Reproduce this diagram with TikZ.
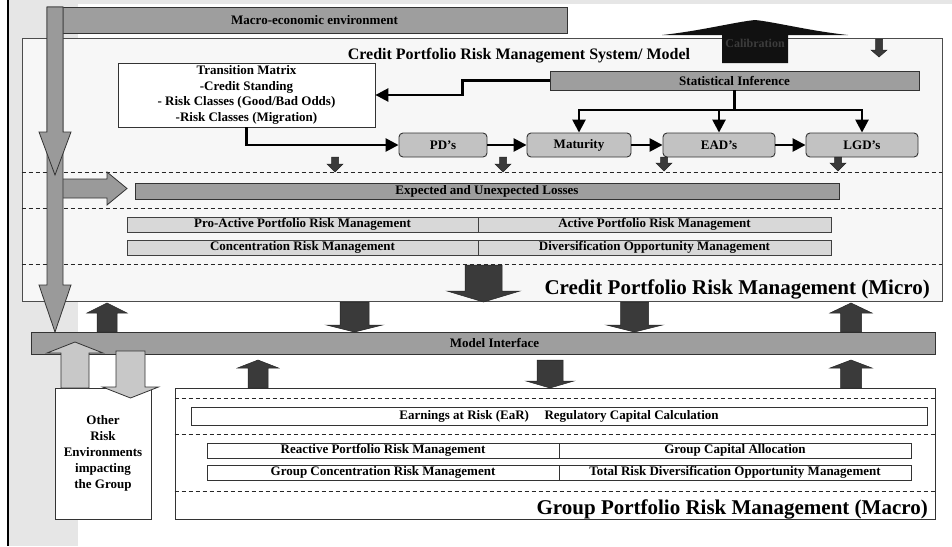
\documentclass[tikz,border=0pt]{standalone}
\usepackage{fontspec}
\setmainfont{Liberation Serif}
\usetikzlibrary{arrows.meta}

\definecolor{bandgray}{HTML}{E6E6E6}
\definecolor{panelgray}{HTML}{F7F7F7}
\definecolor{bargray}{HTML}{9E9E9E}
\definecolor{stepgray}{HTML}{C2C2C2}
\definecolor{rowgray}{HTML}{D8D8D8}
\definecolor{litegray}{HTML}{C8C8C8}
\definecolor{arrowgray}{HTML}{9A9A9A}
\definecolor{darkarrow}{HTML}{3A3A3A}
\definecolor{calibfill}{HTML}{111111}
\definecolor{calibtext}{HTML}{3C3C3C}

% vertical block arrow: style, x, y start, y tip, shaft half-width, head half-width, head length
\newcommand\blkv[7]{%
  \path[#1] ({#2-#5},#3) -- ({#2-#5},{#4-#7*sign(#4-#3)}) -- ({#2-#6},{#4-#7*sign(#4-#3)})
    -- (#2,#4) -- ({#2+#6},{#4-#7*sign(#4-#3)}) -- ({#2+#5},{#4-#7*sign(#4-#3)}) -- ({#2+#5},#3) -- cycle;}

\begin{document}
\begin{tikzpicture}[x=1pt,y=-1pt,
  txt/.style={font=\fontsize{13}{15.7}\selectfont\bfseries, text=black},
  bigtitle/.style={font=\fontsize{21}{24}\selectfont\bfseries, inner sep=0pt},
  panel/.style={draw=black!70, fill=panelgray, line width=0.8pt, inner sep=0pt},
  whitebox/.style={draw=black!80, fill=white, line width=0.8pt, inner sep=0pt, txt, align=center},
  graybar/.style={draw=black!80, fill=bargray, line width=0.9pt, inner sep=0pt, txt},
  stepbox/.style={draw=black!80, fill=stepgray, line width=0.9pt, rounded corners=4pt, inner sep=0pt, txt},
  rowbox/.style={draw=black!75, fill=rowgray, line width=0.9pt, inner sep=0pt, txt},
  sep/.style={dash pattern=on 4pt off 3pt, line width=0.8pt, draw=black!85},
  conn/.style={line width=2.6pt, -{Triangle[length=13pt,width=13pt]}},
  wire/.style={line width=2.6pt},
  darkblk/.style={fill=darkarrow, draw=black!85, line width=0.5pt},
  midblk/.style={fill=arrowgray, draw=black!80, line width=0.8pt},
  liteblk/.style={fill=litegray, draw=black!80, line width=0.8pt},
]
\useasboundingbox (0,0) rectangle (952,546);

% page background and left margin band
\fill[white] (0,0) rectangle (952,546);
\fill[bandgray] (8,0) rectangle (78,546);
\fill[bandgray] (8,0) rectangle (952,4);
\draw[line width=2pt] (8,0) -- (8,546);

% ---------- micro level panel ----------
\node[panel, minimum width=920, minimum height=263] (micro) at (482,169.5) {};
\foreach \yy in {172,208,264}
  \draw[sep] (micro.west |- 0,\yy) -- (micro.east |- 0,\yy);

\node[txt, font=\fontsize{16}{18}\selectfont\bfseries, anchor=base, inner sep=0pt] (systitle) at (519,59)
  {Credit Portfolio Risk Management System/ Model};

% macro-economic environment bar
\node[graybar, minimum width=505, minimum height=26] (macroenv) at (314.5,20) {Macro-economic environment};

% calibration arrow with a wide, slightly concave head
\fill[calibfill] (722,63) -- (722,35) -- (662,35)
  .. controls (700,31) and (735,22) .. (755,20)
  .. controls (775,22) and (810,31) .. (848,35)
  -- (788,35) -- (788,63) -- cycle;
\node[txt, font=\fontsize{12}{14}\selectfont\bfseries, text=calibtext, inner sep=0pt] (calib) at (755,43) {Calibration};
\blkv{darkblk}{879}{39}{57}{3.5}{8}{7}

% transition matrix and statistical inference
\node[whitebox, minimum width=257, minimum height=64] (trans) at (246.5,95)
  {Transition Matrix\\-Credit Standing\\- Risk Classes (Good/Bad Odds)\\-Risk Classes (Migration)};
\node[graybar, minimum width=369, minimum height=19] (stat) at (734.5,80.5) {Statistical Inference};

% risk parameter boxes
\node[stepbox, minimum width=88,  minimum height=24] (pd)  at (443,145) {PD’s};
\node[stepbox, minimum width=104, minimum height=24] (mat) at (579,145) {Maturity};
\node[stepbox, minimum width=112, minimum height=24] (ead) at (719,145) {EAD’s};
\node[stepbox, minimum width=112, minimum height=24] (lgd) at (862,145) {LGD’s};

% connectors
\draw[conn] (stat.west) -- ++(-87,0) |- (trans.east);
\draw[conn] (trans.south) |- (pd.west);
\draw[conn] (pd.east) -- (mat.west);
\draw[conn] (mat.east) -- (ead.west);
\draw[conn] (ead.east) -- (lgd.west);
\coordinate (fork) at (stat.south |- 0,110);
\draw[wire] (stat.south) -- (fork);
\draw[conn] (fork) -| (mat.north);
\draw[conn] (fork) -| (ead.north);
\draw[conn] (fork) -| (lgd.north);

% small outflow arrows
\blkv{darkblk}{335}{157}{172}{3.5}{8}{8}
\blkv{darkblk}{503}{157}{172}{3.5}{8}{8}
\blkv{darkblk}{664}{157}{171}{3.5}{8}{8}
\blkv{darkblk}{838}{157}{171}{3.5}{8}{8}

% losses and management rows
\node[graybar, minimum width=704, minimum height=16] (loss) at (487,191) {Expected and Unexpected Losses};
\node[rowbox, minimum width=351, minimum height=15] (proact) at (302.5,224.5) {Pro-Active Portfolio Risk Management};
\node[rowbox, minimum width=353, minimum height=15] (act)    at (654.5,224.5) {Active Portfolio Risk Management};
\node[rowbox, minimum width=351, minimum height=15] (conc)   at (302.5,247.5) {Concentration Risk Management};
\node[rowbox, minimum width=353, minimum height=15] (divers) at (654.5,247.5) {Diversification Opportunity Management};

\blkv{darkblk}{483.5}{265}{302}{18.5}{36.5}{11}
\node[bigtitle, anchor=base east] (microtitle) at (930,294) {Credit Portfolio Risk Management (Micro)};

% ---------- model interface ----------
\node[graybar, minimum width=904, minimum height=22] (model) at (483,343) {};
\node[txt, inner sep=0pt] (modeltxt) at (494.5,343) {Model Interface};

\blkv{darkblk}{107}{332}{303}{10}{20}{10}
\blkv{darkblk}{354.5}{302}{332}{14.5}{28}{7}
\blkv{darkblk}{634.5}{302}{332}{14}{28}{7}
\blkv{darkblk}{851}{332}{303}{10.5}{21}{10}

% ---------- macro level panel ----------
\node[whitebox, minimum width=96, minimum height=131, font=\fontsize{13}{16}\selectfont\bfseries] (other) at (103,453.5)
  {Other\\Risk\\Environments\\impacting\\the Group};
\node[whitebox, minimum width=760, minimum height=131] (macro) at (555,453.5) {};
\foreach \yy in {398,434,491}
  \draw[sep] (macro.west |- 0,\yy) -- (macro.east |- 0,\yy);

\node[whitebox, minimum width=736, minimum height=18] (ear) at (559,416)
  {Earnings at Risk (EaR)\hspace{15.5pt}Regulatory Capital Calculation};
\node[whitebox, minimum width=352, minimum height=15] (react)  at (383,450.5) {Reactive Portfolio Risk Management};
\node[whitebox, minimum width=352, minimum height=15] (alloc)  at (735,450.5) {Group Capital Allocation};
\node[whitebox, minimum width=352, minimum height=15] (gconc)  at (383,472.5) {Group Concentration Risk Management};
\node[whitebox, minimum width=352, minimum height=15] (gdiv)   at (735,472.5) {Total Risk Diversification Opportunity Management};
\node[bigtitle, anchor=base east] (macrotitle) at (928,514) {Group Portfolio Risk Management (Macro)};

\blkv{darkblk}{258}{388}{360}{10}{20.5}{8}
\blkv{darkblk}{550}{360}{388}{13}{24}{7}
\blkv{darkblk}{851}{388}{360}{10.5}{21}{8}

% exchange with other risk environments
\blkv{liteblk}{75}{388}{342}{14}{28}{11}
\blkv{liteblk}{130.5}{351}{398}{14.5}{28}{11}

% macro-economic influence arrows
\path[midblk] (60,179) -- (107,179) -- (107,172) -- (127,188.5) -- (107,205) -- (107,198) -- (60,198) -- cycle;
\blkv{midblk}{55}{7}{332}{8}{16}{47}
\blkv{midblk}{55}{7}{175}{8}{16}{43}
\end{tikzpicture}
\end{document}
